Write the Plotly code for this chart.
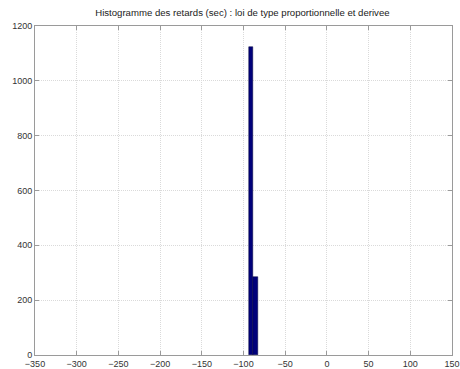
import plotly.graph_objects as go

bin_centers = [-90.8, -85.7]
counts = [1122, 286]
bin_width = 5.1
x_ticks = [-350, -300, -250, -200, -150, -100, -50, 0, 50, 100, 150]
y_ticks = [0, 200, 400, 600, 800, 1000, 1200]
title = "Histogramme des retards (sec) : loi de type proportionnelle et derivee"

fig = go.Figure()
fig.add_trace(go.Bar(
    x=bin_centers, y=counts, width=[bin_width] * len(counts),
    marker=dict(color="#00007a", line=dict(color="#00003a", width=0.5)),
))

axis_common = dict(
    showline=True, linecolor="#9a9a9a", linewidth=1, mirror="ticks",
    ticks="inside", ticklen=4, tickcolor="#9a9a9a",
    showgrid=True, gridcolor="#dadada", griddash="1px,1px", gridwidth=1,
    zeroline=False, automargin=False,
    tickfont=dict(family="Liberation Sans, Arial, sans-serif", size=9, color="#333333"),
)
fig.update_xaxes(range=[-350, 150], tickvals=x_ticks, **axis_common)
fig.update_yaxes(range=[0, 1200], tickvals=y_ticks, **axis_common)

fig.update_layout(
    width=460, height=369,
    margin=dict(l=35, r=8, t=26, b=14, autoexpand=False),
    paper_bgcolor="white", plot_bgcolor="white",
    showlegend=False,
    bargap=0,
    title=dict(text=title, x=0.527, xanchor="center", y=0.965, yanchor="middle",
               automargin=False,
               font=dict(family="Liberation Sans, Arial, sans-serif", size=9.6, color="#222222")),
)
fig.write_html("out.html", config={"displayModeBar": False},
               post_script="document.body.style.margin='0';document.body.style.overflow='hidden';")
